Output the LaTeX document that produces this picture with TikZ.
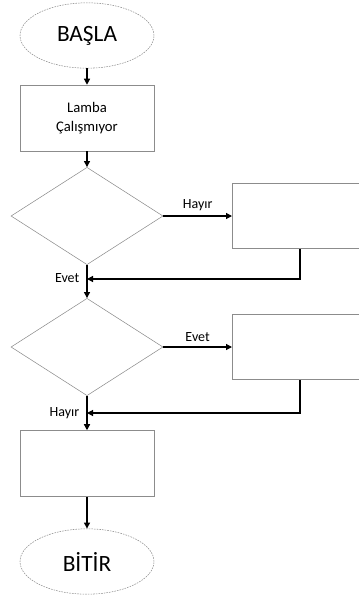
\documentclass[tikz,border=0pt]{standalone}
\usepackage{fontspec}
\setmainfont{Carlito}
\usetikzlibrary{positioning,shapes.geometric,arrows.meta}

\begin{document}
\begin{tikzpicture}[x=0.75pt, y=-0.75pt, font=\fontsize{10.5}{12}\selectfont,
  term/.style={draw=black!45, dashed, dash pattern=on 1.2pt off 0.8pt, ellipse, minimum width=100.5pt, minimum height=49pt, inner sep=0pt, font=\fontsize{17.5}{20}\selectfont},
  box/.style={draw=black!45, rectangle, minimum width=100.5pt, minimum height=49.5pt, inner sep=0pt, align=center, font=\fontsize{11}{14}\selectfont},
  sidebox/.style={draw=black!45, rectangle, minimum width=111pt, minimum height=48.75pt, inner sep=0pt},
  check/.style={draw=black!45, diamond, minimum width=114pt, minimum height=73pt, inner sep=0pt},
  line/.style={line width=0.9pt, -{Triangle[length=4.5pt,width=4.5pt]}}]
\useasboundingbox (0,0) rectangle (358,597);
% main column
\node[term] (start) at (87,35.5) {BAŞLA};
\node[box] (lamp) at (87,118) {Lamba\\Çalışmıyor};
\node[check] (q1) at (87,216) {};
\node[check] (q2) at (87,347) {};
\node[box] (act) at (87,463.5) {};
\node[term] (stop) at (87,561.5) {BİTİR};
% side boxes
\node[sidebox, anchor=west] (r1) at (232,216) {};
\node[sidebox, anchor=west] (r2) at (232,347) {};
\coordinate (k1) at (300,249);
\coordinate (j1) at (87,279);
\coordinate (k2) at (300,380);
\coordinate (j2) at (87,413);

\draw[line] (start) -- (lamp);
\draw[line] (lamp) -- (q1);
\draw[line] (q1) -- node[above]{Hayır} (r1);
\draw[line] (q1) -- node[pos=0.4, left=2pt]{Evet} (q2);
\draw[line] (k1) |- (j1);
\draw[line] (q2) -- node[above]{Evet} (r2);
\draw[line] (q2) -- node[pos=0.5, left=2pt]{Hayır} (act);
\draw[line] (k2) |- (j2);
\draw[line] (act) -- (stop);
\end{tikzpicture}
\end{document}
